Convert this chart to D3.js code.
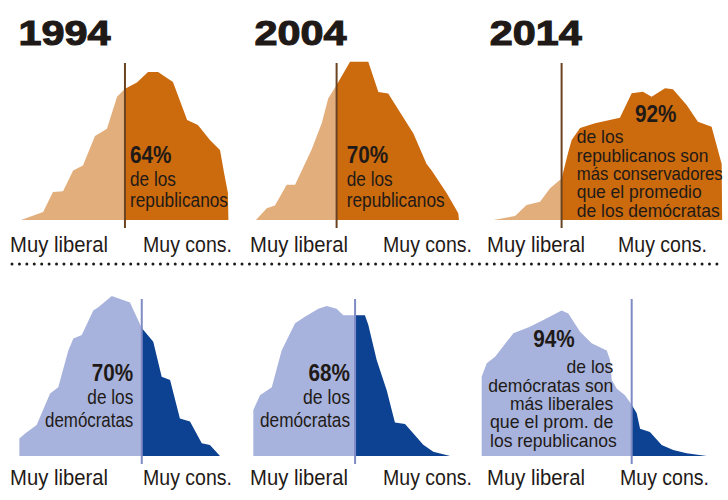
<!DOCTYPE html>
<html><head><meta charset="utf-8">
<script src="https://cdn.jsdelivr.net/npm/d3@7"></script>
<style>
html,body{margin:0;padding:0;background:#fff;}
svg{display:block;}
text{font-family:"Liberation Sans Narrow","Liberation Sans",Arial,sans-serif;fill:#1f1a17;}
</style></head>
<body>
<svg id="chart" width="728" height="500"></svg>
<script>
// ---- data (ideology position 0–100, relative share of members, peak ≈ 100) ----
const years = ["1994", "2004", "2014"];
const axisLabels = ["Muy liberal", "Muy cons."];

const rep1994 = [[4.6,0],[13.8,5],[17.9,17.5],[22.1,18],[26.3,31],[30.4,34],[35.4,52.5],[40.4,57],[44.6,77],[47.9,82],[52.9,86],[57.5,92.5],[61.7,92.5],[67.9,86.3],[73.8,62.5],[78.3,59.4],[83.3,50],[87.5,43.8],[89.2,29.4],[90.8,17],[91,0]];
const rep2004 = [[2.9,0],[7.4,7.3],[10.8,9],[15.7,22],[19.2,22],[26.1,44],[30.3,60.4],[33,76],[36.5,84.4],[42.1,98.9],[49.7,98.9],[53.9,80],[58,79],[68.5,54],[74,35],[76.1,31],[82.4,16.7],[87.2,4.2],[87.5,0]];
const rep2014 = [[5.6,0],[14.6,2.5],[19.4,9.4],[25,11.4],[29.2,19.8],[34,26],[36.7,42],[38.2,50],[41.7,57.5],[47.9,60.4],[58.3,63.9],[63.2,79.2],[67.9,80.2],[71.5,77],[77.1,82.3],[80.4,81.7],[86.1,71.9],[90.8,61.4],[96.5,58.3],[100.7,35],[100.9,0]];

const dem1994 = [[3.9,0],[3.9,11],[6.3,14],[11.1,19.4],[16.7,39],[20.1,43],[24.3,66],[26.4,73.5],[29.9,75.6],[34.7,91],[36.8,93],[42.4,100],[50,96],[52.1,89],[54.9,80],[59.7,71.4],[63.2,49.5],[66.7,47.5],[70.8,23.5],[75,21.5],[79.9,7.9],[83.3,6.9],[87.5,0]];
const dem2004 = [[1.8,0],[1.8,28.8],[4.6,38],[9.5,43],[13.6,66],[19.2,83],[23.3,87],[28.9,92],[32.4,93.8],[36.5,92],[39.3,88],[48.3,88],[49.7,82],[53.2,60],[57.4,41],[60.8,21],[65,20],[68.5,14],[72.6,7],[76.8,2.7],[83.8,0]];
const dem2014 = [[0.7,0],[0.7,49.5],[2.8,58],[6.3,62],[13.9,76.7],[20.8,80.8],[26.4,85],[34,91],[36.8,89],[41.7,77.7],[46.5,70.4],[52.8,66],[54.2,60],[54.9,47.5],[57,42],[60.4,38],[63.2,32],[65.3,26.7],[66.7,17],[70.8,15],[75.7,6.9],[80.5,3.75],[86.1,1.7],[94.5,0]];

const demAverage = [47.9, 36.5, 34];   // split line in republican panels
const repAverage = [54.9, 44.2, 63.2]; // split line in democrat panels

const repPct = ["64%", "70%", "92%"];
const demPct = ["70%", "68%", "94%"];
const repNotes = [["de los","republicanos"],["de los","republicanos"],["de los","republicanos son","más conservadores","que el promedio","de los demócratas"]];
const demNotes = [["de los","demócratas"],["de los","demócratas"],["de los","demócratas son","más liberales","que el prom. de","los republicanos"]];

// ---- layout ----
const svg = d3.select("#chart");
const W = 728;
const colLeft = [10, 249, 480];
const colW = 240;
const rowBase = [220, 456];
const rowH = 160;

const xs = colLeft.map(l => d3.scaleLinear().domain([0,100]).range([l, l + colW]));
const ys = rowBase.map(b => d3.scaleLinear().domain([0,100]).range([b, b - rowH]));

const colors = {
  rep: {light:"#e2ae7c", dark:"#cc6a0e", line:"#6b4321"},
  dem: {light:"#a7b3dc", dark:"#0d4192", line:"#7e8bc4"}
};

function drawPanel(row, col, data, split, pal, id) {
  const x = xs[col], y = ys[row];
  const area = d3.area().x(d => x(d[0])).y0(y(0)).y1(d => y(d[1])).curve(d3.curveLinear);
  const sx = x(split);
  const defs = svg.append("defs");
  defs.append("clipPath").attr("id", "L"+id).append("rect")
    .attr("x", 0).attr("y", 0).attr("width", sx).attr("height", 500);
  defs.append("clipPath").attr("id", "R"+id).append("rect")
    .attr("x", sx).attr("y", 0).attr("width", W - sx).attr("height", 500);
  const g = svg.append("g");
  g.append("path").datum(data).attr("d", area).attr("fill", pal.light).attr("clip-path", "url(#L"+id+")");
  g.append("path").datum(data).attr("d", area).attr("fill", pal.dark).attr("clip-path", "url(#R"+id+")");
  g.append("line").attr("x1", sx).attr("x2", sx)
    .attr("y1", y(0) + 8).attr("y2", y(0) - rowH + 3)
    .attr("stroke", pal.line).attr("stroke-width", 2);
}

function txt(x, y, s, size, weight, anchor, len) {
  const t = svg.append("text").attr("x", x).attr("y", y).text(s)
    .attr("font-size", size).attr("font-weight", weight).attr("text-anchor", anchor);
  if (len) t.attr("textLength", len).attr("lengthAdjust", "spacingAndGlyphs");
  return t;
}

const repData = [rep1994, rep2004, rep2014];
const demData = [dem1994, dem2004, dem2014];
repData.forEach((d, i) => drawPanel(0, i, d, demAverage[i], colors.rep, "r"+i));
demData.forEach((d, i) => drawPanel(1, i, d, repAverage[i], colors.dem, "d"+i));

// years
const yearX = [18.5, 254.4, 489.8];
years.forEach((yr, i) => {
  txt(yearX[i], 45, yr, 35, "bold", "start", 92)
    .attr("font-family", "'Liberation Sans',Arial,sans-serif")
    .attr("stroke", "#1f1a17").attr("stroke-width", 1.1);
});

// axis labels
const libOff = [0, 1, 7];
const consOff = [133, 134, 138];
[0,1].forEach(row => {
  const by = row === 0 ? 251.5 : 485;
  colLeft.forEach((l, i) => {
    txt(l + libOff[i], by, axisLabels[0], 21.5, "normal", "start", 98);
    txt(l + consOff[i] + (row === 1 && i === 2 ? 2 : 0), by, axisLabels[1], 21.5, "normal", "start", 89);
  });
});

// dotted separator
svg.append("line").attr("x1", 12).attr("x2", 724).attr("y1", 264).attr("y2", 264)
  .attr("stroke", "#1f1a17").attr("stroke-width", 3)
  .attr("stroke-linecap", "round").attr("stroke-dasharray", "0 7.42");

// annotations: republicans
const pctLen = 41.5;
[[130, 0], [346.7, 1]].forEach(([ax, i]) => {
  txt(ax, 162.7, repPct[i], 24, "bold", "start", pctLen);
  txt(ax, 186, repNotes[i][0], 20.5, "normal", "start", 46);
  txt(ax, 207, repNotes[i][1], 20.5, "normal", "start", 98);
});
txt(635, 121.7, repPct[2], 24, "bold", "start", pctLen);
const r3base = [143.3, 161.7, 180, 198.3, 216.7];
const r3len = [46.7, 131.7, 146, 125, 143];
repNotes[2].forEach((s, k) => txt(576.7, r3base[k], s, 18.5, "normal", "start", r3len[k]));

// annotations: democrats
[[133.3, 0, [46, 88.3]], [350, 1, [47, 90]]].forEach(([ax, i, lens]) => {
  txt(ax, 381, demPct[i], 24, "bold", "end", pctLen);
  txt(ax, 404, demNotes[i][0], 20.5, "normal", "end", lens[0]);
  txt(ax, 426.7, demNotes[i][1], 20.5, "normal", "end", lens[1]);
});
txt(533.3, 346.7, demPct[2], 24, "bold", "start", pctLen);
const d3base = [372.7, 391.7, 410, 428.3, 446.7];
const d3len = [46.7, 125, 103.3, 123.3, 126.7];
const d3end = [613.3, 613.3, 613.3, 613.3, 616.7];
demNotes[2].forEach((s, k) => txt(d3end[k], d3base[k], s, 18.5, "normal", "end", d3len[k]));
</script>
</body></html>
